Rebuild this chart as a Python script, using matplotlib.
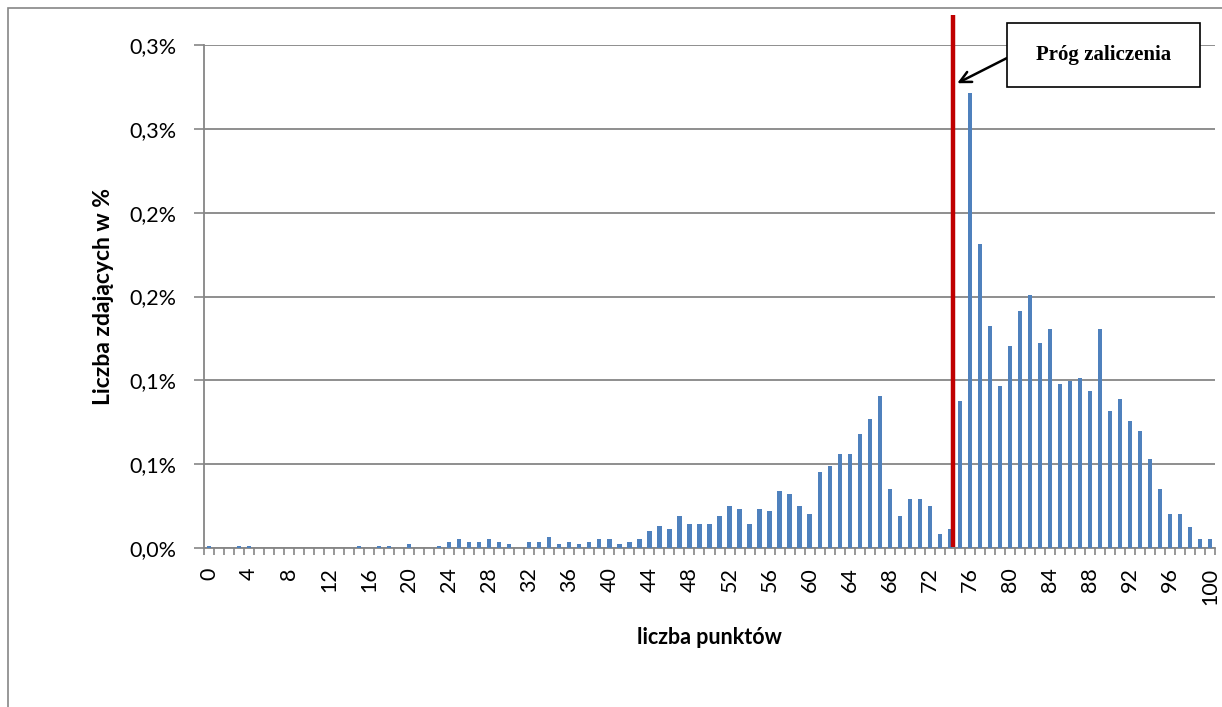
import numpy as np
import matplotlib

matplotlib.use("Agg")
import matplotlib.pyplot as plt
from matplotlib.patches import Rectangle

# score 0..100 and share of test takers (in %)
points = list(range(101))
share = [
    0.0012, 0, 0, 0.0012, 0.0012, 0, 0, 0, 0, 0,  # 0-9
    0, 0, 0, 0, 0, 0.0012, 0, 0.0012, 0.0012, 0,  # 10-19
    0.0026, 0, 0, 0.0012, 0.0038, 0.0055, 0.0038, 0.0038, 0.0054, 0.0038,  # 20-29
    0.0026, 0, 0.0038, 0.0038, 0.0068, 0.0026, 0.0038, 0.0026, 0.0038, 0.0054,  # 30-39
    0.0054, 0.0026, 0.0038, 0.0054, 0.0100, 0.0130, 0.0113, 0.0189, 0.0143, 0.0143,  # 40-49
    0.0143, 0.0189, 0.0249, 0.0231, 0.0143, 0.0231, 0.0219, 0.0338, 0.0324, 0.0249,  # 50-59
    0.0203, 0.0456, 0.0489, 0.0561, 0.0561, 0.0682, 0.0772, 0.0905, 0.0354, 0.0189,  # 60-69
    0.0290, 0.0290, 0.0249, 0.0086, 0.0113, 0.0875, 0.2715, 0.1816, 0.1323, 0.0967,  # 70-79
    0.1205, 0.1414, 0.1506, 0.1220, 0.1309, 0.0981, 0.0995, 0.1011, 0.0935, 0.1309,  # 80-89
    0.0818, 0.0887, 0.0758, 0.0698, 0.0533, 0.0354, 0.0205, 0.0205, 0.0125, 0.0052,  # 90-99
    0.0052,  # 100
]
y_ticks = [0.0, 0.05, 0.10, 0.15, 0.20, 0.25, 0.30]
y_tick_labels = ["0,0%", "0,1%", "0,1%", "0,2%", "0,2%", "0,3%", "0,3%"]
x_tick_pos = list(range(0, 101, 4))
threshold = 74.35
threshold_label = "Próg zaliczenia"

W, H = 1222, 707
fig = plt.figure(figsize=(W / 100, H / 100), dpi=100)
ax = fig.add_axes([204 / W, (H - 548) / H, (1215 - 204) / W, (548 - 45) / H])

grey = "#868686"
ax.bar(points, share, width=0.42, color="#4F81BD", zorder=3)

ax.set_xlim(-0.5, 100.5)
ax.set_ylim(0, 0.30)
ax.set_yticks(y_ticks)
ax.set_yticklabels(y_tick_labels)
ax.yaxis.grid(True, color=grey, linewidth=1.3, zorder=0)
ax.set_xticks(x_tick_pos)
ax.set_xticklabels([str(p) for p in x_tick_pos], rotation=90)
ax.set_xticks(np.arange(-0.5, 101, 1), minor=True)
ax.tick_params(axis="x", which="major", length=0, pad=14, labelsize=15.5)
ax.tick_params(axis="x", which="minor", length=5, color=grey, width=1.2)
ax.tick_params(axis="y", length=7, color=grey, width=1.2, pad=13, labelsize=15.5)
for side in ["top", "right"]:
    ax.spines[side].set_visible(False)
for side in ["left", "bottom"]:
    ax.spines[side].set_color(grey)
    ax.spines[side].set_linewidth(1.3)

for lbl in ax.get_xticklabels() + ax.get_yticklabels():
    lbl.set_fontfamily("Lato")

ax.set_xlabel("liczba punktów", fontsize=15.5, fontweight="bold", family="Lato")
ax.set_ylabel("Liczba zdających w %", fontsize=16.5, fontweight="bold", family="Lato")
ax.xaxis.set_label_coords(0.5, (548 - 637) / 503)
ax.yaxis.set_label_coords((103 - 204) / 1011, 0.5)
ax.xaxis.label.set_va("center")
ax.yaxis.label.set_va("center")

# pass threshold line, reaching above the plot area
ax.plot([threshold, threshold], [0.0008, 0.318], color="#C00000", linewidth=3.2,
        clip_on=False, zorder=4, solid_capstyle="butt")

# callout box with arrow pointing at the line
fig.patches.append(Rectangle((1007 / W, 1 - 87 / H), 193 / W, 64 / H, transform=fig.transFigure,
                             fc="white", ec="black", lw=1.2, zorder=5))
fig.text(1103.5 / W, 1 - 55 / H, threshold_label, ha="center", va="center",
         fontsize=15, fontweight="bold", family="Liberation Serif", zorder=6)
ax.annotate(
    "",
    xy=(threshold + 0.4, 0.2772), xycoords="data",
    xytext=(1007 / W, 1 - 58 / H), textcoords="figure fraction",
    arrowprops=dict(arrowstyle="->,head_length=0.8,head_width=0.4", color="black", lw=1.8,
                    shrinkA=0, shrinkB=0),
    annotation_clip=False, zorder=5,
)

# outer chart border
fig.patches.append(Rectangle((8 / W, -0.01), 1.1, 1 - 8 / H + 0.01, transform=fig.transFigure,
                             fill=False, ec=grey, lw=1.2))

fig.savefig("out.png", dpi=100)
